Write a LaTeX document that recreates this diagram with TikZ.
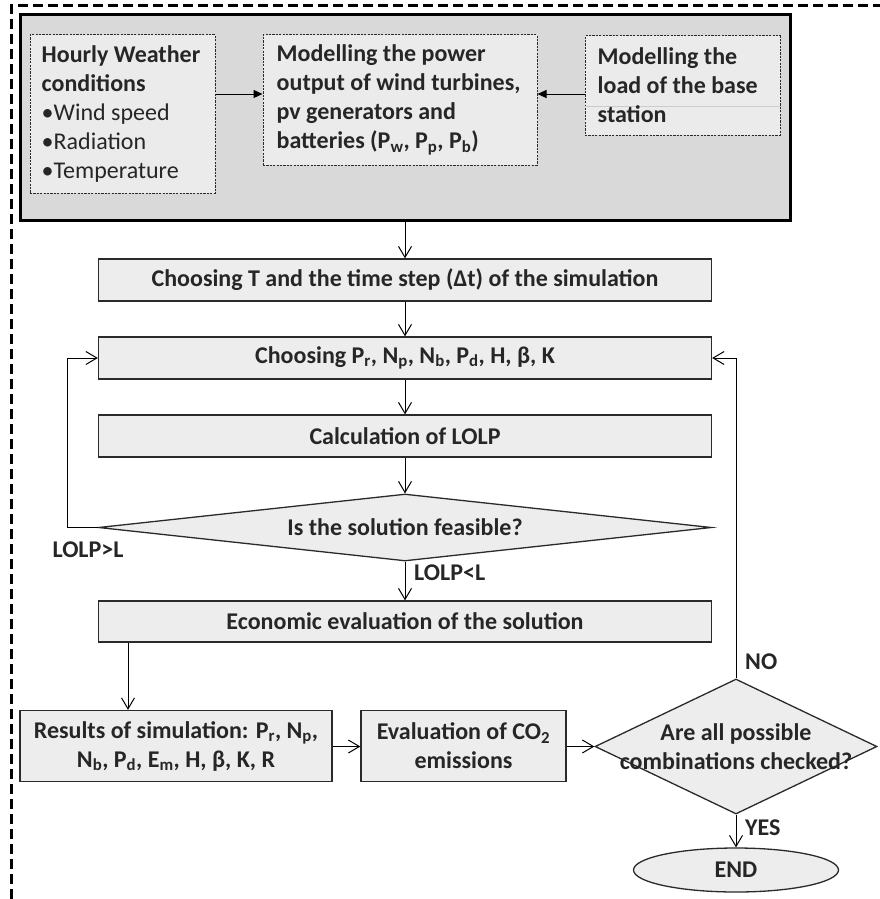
\documentclass[tikz,border=0pt]{standalone}
\usepackage{fontspec}
\setmainfont{Carlito}
\usetikzlibrary{arrows.meta,shapes.geometric}
\definecolor{txtc}{HTML}{262626}
\definecolor{bigfill}{HTML}{D9D9D9}
\definecolor{inbfill}{HTML}{EBEBEB}
\definecolor{boxfill}{HTML}{EDEDED}
\definecolor{edgec}{HTML}{2A2A2A}
\newcommand{\sbs}[1]{\textsubscript{#1}}
\begin{document}
\begin{tikzpicture}[x=1pt,y=-1pt,
  txt/.style={font=\fontsize{24}{29}\selectfont\bfseries, text=txtc},
  flowbox/.style={draw=edgec, line width=1.3pt, fill=boxfill, inner sep=0pt, txt, align=center},
  inbox/.style={draw=edgec, dash pattern=on 2.2pt off 1.2pt, line width=1pt, fill=inbfill, inner sep=0pt},
  decision/.style={diamond, draw=edgec, line width=1.3pt, fill=boxfill, inner sep=0pt},
  lbl/.style={txt, inner sep=0pt},
  arr/.style={-{Straight Barb[length=11pt,width=13pt,line width=1pt]}, line width=1pt, draw=black},
  farr/.style={-{Triangle[length=9pt,width=8pt]}, line width=1pt, draw=black},
  line/.style={line width=1.3pt, draw=black}
]
\useasboundingbox (0,0) rectangle (880,899);
\fill[white] (0,0) rectangle (880,899);

% outer dashed frame
\draw[line width=3pt, dash pattern=on 10pt off 5pt] (11,899) -- (11,6) -- (880,6);

% modelling block
\node[draw=black, line width=3pt, fill=bigfill, minimum width=770pt, minimum height=205pt, inner sep=0pt] (model) at (405,117.5) {};
\node[inbox, minimum width=185pt, minimum height=158pt] (weather) at (122.5,114) {};
\node[inbox, minimum width=274pt, minimum height=130pt] (power) at (400,100) {};
\node[inbox, minimum width=195pt, minimum height=99pt] (load) at (682.5,85.5) {};
\draw[draw=black!20, line width=0.8pt] (load.west |- 0,106.5) -- (load.east |- 0,106.5);

\node[txt, anchor=west, align=left, inner sep=0pt] (weathertxt) at ([xshift=12pt]weather.west)
  {Hourly Weather\\conditions\\\mdseries •Wind speed\\\mdseries •Radiation\\\mdseries •Temperature};
\node[txt, anchor=west, align=left, inner sep=0pt] (powertxt) at ([xshift=14pt]power.west)
  {Modelling the power\\output of wind turbines,\\pv generators and\\batteries (P\sbs{w}, P\sbs{p}, P\sbs{b})};
\node[txt, anchor=west, align=left, inner sep=0pt] (loadtxt) at ([xshift=13pt]load.west)
  {Modelling the\\load of the base\\station};

\coordinate (ay) at (0,94);
\draw[farr] (weather.east |- ay) -- (power.west |- ay);
\draw[farr] (load.west |- ay) -- (power.east |- ay);

% main flow
\node[flowbox, minimum width=613pt, minimum height=42pt] (chooseT) at (405,280) {Choosing T and the time step (Δt) of the simulation};
\node[flowbox, minimum width=613pt, minimum height=42pt] (chooseP) at (405,358) {Choosing P\sbs{r}, N\sbs{p}, N\sbs{b}, P\sbs{d}, H, β, K};
\node[flowbox, minimum width=613pt, minimum height=42pt] (calc) at (405,436) {Calculation of LOLP};
\node[decision, minimum width=613pt, minimum height=67pt] (feas) at (405,527.5) {};
\node[lbl] (feastxt) at (feas.center) {Is the solution feasible?};
\node[flowbox, minimum width=613pt, minimum height=41pt] (econ) at (405,621.5) {Economic evaluation of the solution};
\node[flowbox, minimum width=312pt, minimum height=71pt] (res) at (176,746) {Results of simulation: P\sbs{r}, N\sbs{p},\\N\sbs{b}, P\sbs{d}, E\sbs{m}, H, β, K, R};
\node[flowbox, minimum width=205pt, minimum height=71pt] (co2) at (463.5,746) {Evaluation of CO\sbs{2}\\emissions};
\node[decision, minimum width=282pt, minimum height=135pt] (all) at (736,746.5) {};
\node[lbl, align=center] (alltxt) at (all.center) {Are all possible\\combinations checked?};
\node[ellipse, draw=edgec, line width=1.3pt, fill=boxfill, minimum width=205pt, minimum height=44pt, inner sep=0pt, txt] (end) at (736,870) {END};

% connectors
\draw[arr] (model.south) -- (chooseT.north);
\draw[arr] (chooseT.south) -- (chooseP.north);
\draw[arr] (chooseP.south) -- (calc.north);
\draw[arr] (calc.south) -- (feas.north);
\draw[arr] (feas.south) -- (econ.north);
\coordinate (lx) at (67,0);
\draw[arr] (feas.west) -- (feas.west -| lx) -- (chooseP.west -| lx) -- (chooseP.west);
\coordinate (ex) at (128,0);
\draw[arr] (econ.south -| ex) -- (res.north -| ex);
\draw[arr] (res.east |- all) -- (co2.west |- all);
\draw[arr] (co2.east |- all) -- (all.west);
\draw[arr] (all.north) -- (all.north |- chooseP.east) -- (chooseP.east);
\draw[arr] (all.south) -- (end.north);

% labels
\node[lbl] (gt) at (88,550) {LOLP>L};
\node[lbl, anchor=west] (lt) at (414,573) {LOLP<L};
\node[lbl, anchor=west] (no) at (745,662) {NO};
\node[lbl, anchor=west] (yes) at (745,828) {YES};
\end{tikzpicture}
\end{document}
